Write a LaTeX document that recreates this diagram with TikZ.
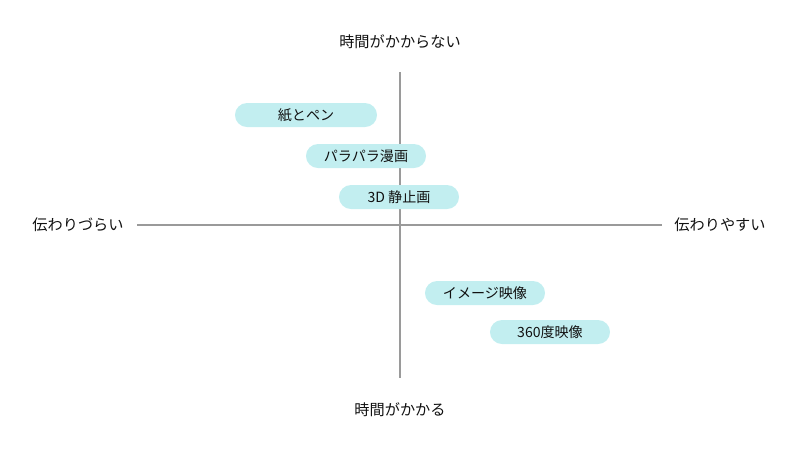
\documentclass[tikz,border=0pt]{standalone}
\usepackage{fontspec}
\setmainfont{Noto Sans CJK JP}
\usepackage{xcolor}
\usetikzlibrary{positioning,calc}
\definecolor{pillcyan}{HTML}{C2EEF0}
\definecolor{axisgray}{HTML}{9A9A9A}
\definecolor{labeltext}{HTML}{111111}

\begin{document}
\begin{tikzpicture}[
  x=0.025cm,y=-0.025cm,
  font=\fontsize{10.8pt}{12pt}\selectfont,
  axis/.style={draw=axisgray,line width=1pt},
  lbl/.style={text=labeltext,inner sep=0pt},
  pill/.style={fill=pillcyan,rounded corners=3mm,minimum width=3cm,minimum height=6mm,
    inner sep=0pt,text=labeltext,font=\fontsize{10pt}{11pt}\selectfont},
]
\useasboundingbox (0,0) rectangle (800,450);
% axes
\coordinate (ytop) at (400,72);
\coordinate (ybot) at (400,378);
\coordinate (xleft) at (137,225);
\coordinate (xright) at (662,225);
\draw[axis] (ytop) -- (ybot);
\draw[axis] (xleft) -- (xright);
% axis labels
\node[lbl] (fast) at (400,42) {時間がかからない};
\node[lbl] (slow) at (400,410) {時間がかかる};
\node[lbl] (hard) at (78,225) {伝わりづらい};
\node[lbl] (easy) at (720,225) {伝わりやすい};
% items
\node[pill,minimum width=3.55cm] (paper) at (306,115) {紙とペン};
\node[pill] (flip) at (366,156) {パラパラ漫画};
\node[pill] (still) at (399,197) {3D 静止画};
\node[pill] (image) at (485,293) {イメージ映像};
\node[pill] (vr) at (550,332) {360度映像};
\end{tikzpicture}
\end{document}
